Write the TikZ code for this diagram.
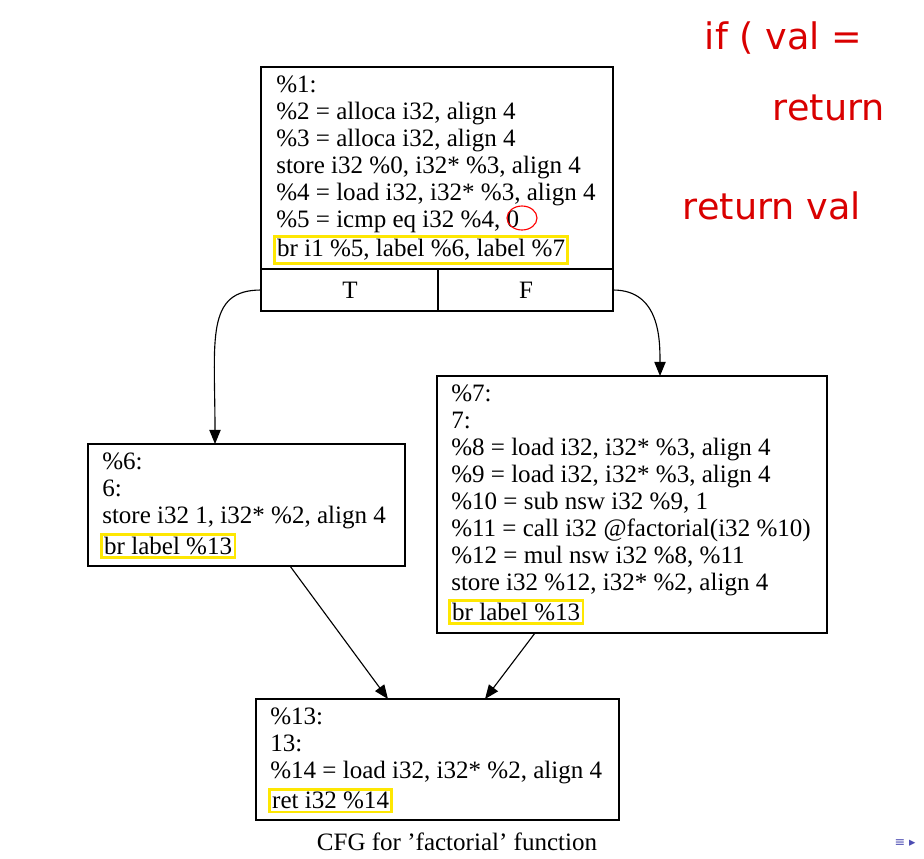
\documentclass[tikz,border=0pt]{standalone}
\usepackage{fontspec}
\setmainfont{Liberation Serif}
\newfontfamily\handfont{DejaVu Sans}
\usetikzlibrary{positioning,arrows.meta}
\tikzset{
  block/.style={draw,thick},
  code/.style={anchor=north west,align=left,inner sep=0pt,font=\fontsize{17.8}{19.2}\selectfont},
  hl/.style={code,draw=yellow!90!orange,line width=2pt,inner sep=2pt},
  flow/.style={-{Triangle[length=10pt,width=8pt]},thick},
  hand/.style={red!85!black,font=\handfont\fontsize{26}{30}\selectfont}
}
\begin{document}
\begin{tikzpicture}[x=0.025cm,y=-0.025cm]
\useasboundingbox (0,0) rectangle (924,858);
% blocks
\draw[block] (261,67) rectangle (613,311);
\draw[block] (261,269) -- (613,269);
\draw[block] (438,269) -- (438,311);
\draw[block] (88,444) rectangle (405,566);
\draw[block] (437,376) rectangle (827,633);
\draw[block] (256,699) rectangle (619,820);
\coordinate (pT) at (261,290);
\coordinate (pF) at (613,290);
\coordinate (b6in) at (215,444);
\coordinate (b7in) at (660,376);
\coordinate (b6out) at (290,566);
\coordinate (b7out) at (535,633);
\coordinate (b13a) at (388,699);
\coordinate (b13b) at (485,699);
\node (lT) at (350,290) {\fontsize{17.8}{19}\selectfont T};
\node (lF) at (526,290) {\fontsize{17.8}{19}\selectfont F};

% text
\node[code] (t1) at (276,76) {\%1:\\
\%2 = alloca i32, align 4\\
\%3 = alloca i32, align 4\\
store i32 \%0, i32* \%3, align 4\\
\%4 = load i32, i32* \%3, align 4\\
\%5 = icmp eq i32 \%4, 0};
\node[hl] (br1) at (273,235) {br i1 \%5, label \%6, label \%7};
\node[code] (t6) at (102,453) {\%6:\\
6:\\
store i32 1, i32* \%2, align 4};
\node[hl] (br6) at (100,533) {br label \%13};
\node[code] (t7) at (451,385) {\%7:\\
7:\\
\%8 = load i32, i32* \%3, align 4\\
\%9 = load i32, i32* \%3, align 4\\
\%10 = sub nsw i32 \%9, 1\\
\%11 = call i32 @factorial(i32 \%10)\\
\%12 = mul nsw i32 \%8, \%11\\
store i32 \%12, i32* \%2, align 4};
\node[hl] (br7) at (448,599) {br label \%13};
\node[code] (t13) at (270,708) {\%13:\\
13:\\
\%14 = load i32, i32* \%2, align 4};
\node[hl] (ret) at (268,788) {ret i32 \%14};
\node[font=\fontsize{17.8}{19}\selectfont] (cap) at (457,842) {CFG for {\char"27}factorial{\char"27} function};

% edges
\draw[flow] (pT) .. controls (205,290) and (215,340) .. (b6in);
\draw[flow] (pF) .. controls (660,290) and (660,340) .. (b7in);
\draw[flow] (b6out) -- (b13a);
\draw[flow] (b7out) -- (b13b);

% notes
\draw[red,thick] (522,218) ellipse (15 and 12);
\node[hand,anchor=west] (n1) at (700,38) {if ( val =};
\node[hand,anchor=west] (n2) at (768,108) {return};
\node[hand,anchor=west] (n3) at (678,206) {return val};
\node[font=\handfont\small,blue!40!gray] (nav) at (905,843) {≡ ▸};
\end{tikzpicture}
\end{document}
